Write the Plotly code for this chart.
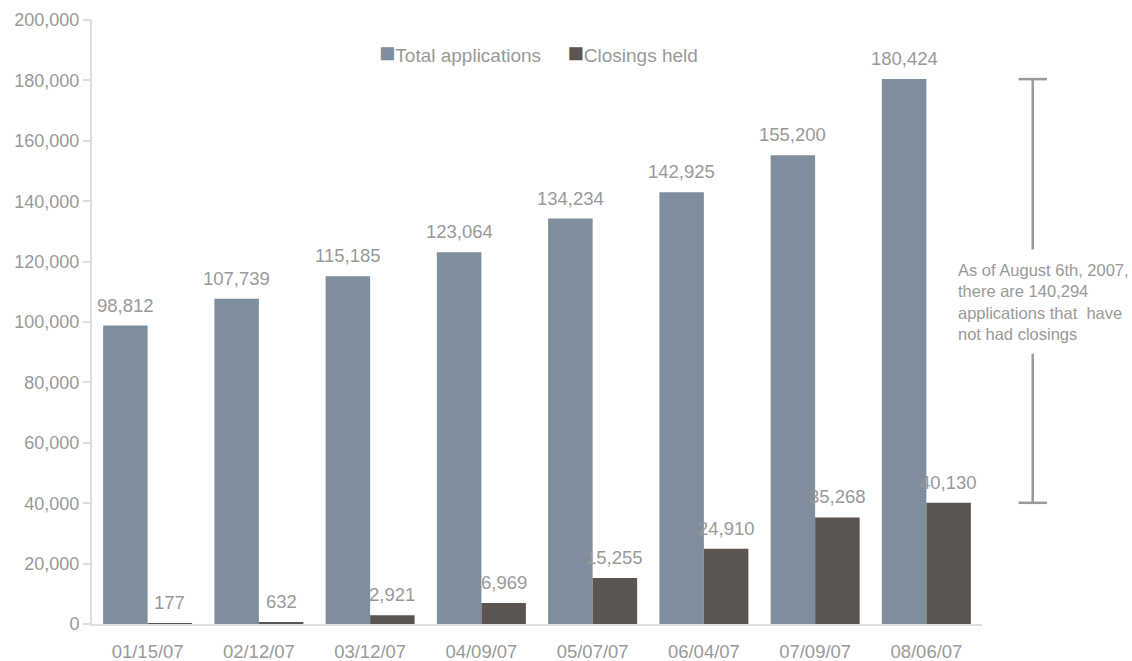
import plotly.graph_objects as go

dates = ["01/15/07", "02/12/07", "03/12/07", "04/09/07", "05/07/07", "06/04/07", "07/09/07", "08/06/07"]
total_applications = [98812, 107739, 115185, 123064, 134234, 142925, 155200, 180424]
closings_held = [177, 632, 2921, 6969, 15255, 24910, 35268, 40130]
y_ticks = [0, 20000, 40000, 60000, 80000, 100000, 120000, 140000, 160000, 180000, 200000]
series_names = ["Total applications", "Closings held"]
series_colors = ["#7f8e9c", "#5a5551"]
note_text = "As of August 6th, 2007,<br>there are 140,294<br>applications that  have<br>not had closings"

FONT = "Liberation Sans, Arial, sans-serif"
GRAY = "#999999"

W, H = 1132, 661
M = dict(l=92, r=150, t=20, b=37)
BARGAP = 0.2

fig = go.Figure()
series = [total_applications, closings_held]
for name, vals, color in zip(series_names, series, series_colors):
    fig.add_trace(go.Bar(
        x=dates, y=vals, name=name,
        marker=dict(color=color, line=dict(width=0)),
        hovertemplate="%{x}: %{y:,}<extra>" + name + "</extra>",
    ))

# value labels above each bar (placed at the bar's data value, shifted to its slot in the group)
cat_px = (W - M["l"] - M["r"]) / len(dates)
bar_px = cat_px * (1 - BARGAP) / len(series)
for si, vals in enumerate(series):
    shift = (si - (len(series) - 1) / 2) * bar_px
    for d, v in zip(dates, vals):
        fig.add_annotation(
            x=d, y=v, xref="x", yref="y", xshift=shift, yshift=8,
            yanchor="bottom", xanchor="center", showarrow=False,
            text=f"{v:,}", font=dict(color=GRAY, size=18.5, family=FONT),
        )

# legend drawn as text with coloured square glyphs
fig.add_annotation(
    xref="paper", yref="paper", x=0.502, y=0.945, xanchor="center", yanchor="middle",
    showarrow=False,
    text=(f"<span style='color:{series_colors[0]};font-size:27px'>■</span>{series_names[0]}"
          f"     <span style='color:{series_colors[1]};font-size:27px'>■</span>{series_names[1]}"),
    font=dict(color=GRAY, size=19, family=FONT),
)

last_total = total_applications[-1]
last_close = closings_held[-1]
bx = 1.057
cap = 0.016
line_style = dict(color="#9a9a9a", width=2.5)
fig.add_shape(type="line", xref="paper", yref="y", x0=bx, x1=bx, y0=last_total, y1=124000, line=line_style)
fig.add_shape(type="line", xref="paper", yref="y", x0=bx, x1=bx, y0=89500, y1=last_close, line=line_style)
fig.add_shape(type="line", xref="paper", yref="y", x0=bx - cap, x1=bx + cap, y0=last_total, y1=last_total, line=line_style)
fig.add_shape(type="line", xref="paper", yref="y", x0=bx - cap, x1=bx + cap, y0=last_close, y1=last_close, line=line_style)

fig.add_annotation(
    xref="paper", yref="y", x=0.9705, y=106700, xanchor="left", yanchor="middle",
    text=note_text, showarrow=False, align="left",
    font=dict(color=GRAY, size=16.5, family=FONT),
)

fig.update_layout(
    width=W, height=H,
    margin=dict(**M, autoexpand=False),
    paper_bgcolor="white", plot_bgcolor="white",
    barmode="group", bargap=BARGAP, bargroupgap=0,
    font=dict(family=FONT, color=GRAY, size=18),
    showlegend=False,
)
fig.update_xaxes(
    showline=True, linecolor="#dddddd", linewidth=2, ticks="", showgrid=False,
    tickfont=dict(size=18.5, color=GRAY, family=FONT), ticklabelstandoff=10,
    automargin=False,
)
fig.update_yaxes(
    range=[0, 200000], tickvals=y_ticks, tickformat=",",
    showline=True, linecolor="#dddddd", linewidth=2, ticks="outside", ticklen=7,
    tickcolor="#dddddd", tickwidth=2, showgrid=False, zeroline=False,
    tickfont=dict(size=18, color=GRAY, family=FONT), automargin=False,
)

fig.write_html(
    "out.html",
    config={"displayModeBar": False},
    post_script=(
        "document.documentElement.style.margin='0';"
        "document.documentElement.style.height='661px';"
        "document.documentElement.style.overflow='hidden';"
        "document.body.style.margin='0';"
        "document.body.style.height='661px';"
        "document.body.style.overflow='hidden';"
    ),
)
